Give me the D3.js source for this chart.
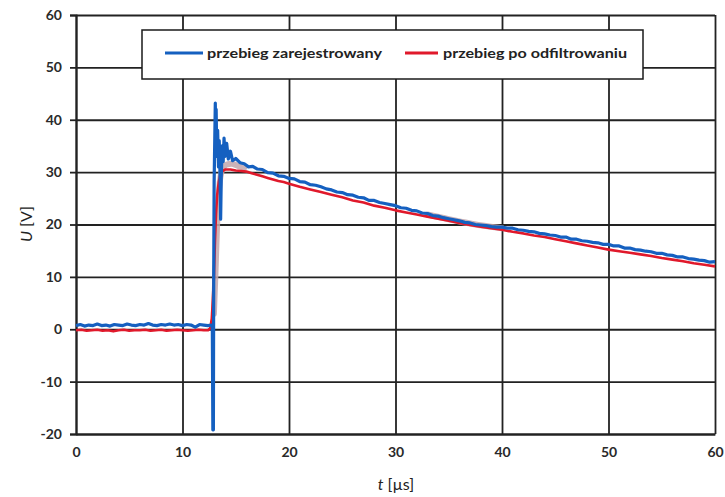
<!DOCTYPE html>
<html><head><meta charset="utf-8">
<script src="https://cdn.jsdelivr.net/npm/d3@7"></script>
<style>body{margin:0;background:#fff}svg{display:block}</style>
</head><body>
<svg id="c" width="725" height="497"></svg>
<script>
const xTicks = [0,10,20,30,40,50,60];
const yTicks = [-20,-10,0,10,20,30,40,50,60];
const legendLabels = ["przebieg zarejestrowany","przebieg po odfiltrowaniu"];
const xTitle = "[µs]", yTitle = "[V]";

const blueSeries = [
[0,0.7],[0.4,0.9],[0.8,0.6],[1.2,0.8],[1.6,0.7],[2.0,1.0],[2.4,0.7],[2.8,0.8],[3.2,0.6],[3.6,0.9],
[4.0,0.8],[4.4,0.7],[4.8,1.0],[5.2,0.8],[5.6,0.7],[6.0,0.9],[6.4,0.8],[6.8,1.1],[7.2,0.8],[7.6,0.7],
[8.0,0.9],[8.4,0.8],[8.8,1.0],[9.2,0.8],[9.6,0.9],[10.0,0.7],[10.4,0.9],[10.8,0.8],[11.2,0.4],[11.6,0.9],
[12.0,0.8],[12.4,0.7],[12.7,0.8],[12.8,0.5],[12.85,-19.2],[12.9,-19.2],[12.93,10],[12.97,28],[13.02,35],
[13.08,43.2],[13.12,36],[13.16,42],[13.22,33],[13.3,38],[13.38,31],[13.45,36],[13.52,30],[13.58,21],
[13.64,29],[13.72,35],[13.82,32],[13.9,36.5],[14.0,33],[14.15,35.5],[14.3,32.5],[14.5,34],[14.7,32.2],
[15.0,32.6],[15.4,31.8],[15.8,31.6],[16.2,31.0],[16.6,31.1],[17.0,30.6],[17.5,30.5],[18,29.9],[18.5,29.8],
[19,29.3],[19.5,29.2],[20,28.8],[20.5,28.7],[21,28.2],[21.5,28.1],[22,27.6],[22.5,27.5],[23,27.2],[23.5,26.8],
[24,26.6],[24.5,26.2],[25,26.1],[25.5,25.7],[26,25.6],[26.5,25.2],[27,25.1],[27.5,24.6],[28,24.6],[28.5,24.2],
[29,24.0],[29.5,23.8],[30,23.6],[30.5,23.2],[31,23.1],[31.5,22.7],[32,22.6],[32.5,22.2],[33,22.1],[33.5,21.7],
[34,21.6],[34.5,21.3],[35,21.1],[35.5,20.9],[36,20.7],[36.5,20.4],[37,20.3],[37.5,20.0],[38,19.9],[38.5,19.8],
[39,19.6],[39.5,19.5],[40,19.5],[40.5,19.3],[41,19.3],[41.5,19.0],[42,18.9],[42.5,18.7],[43,18.6],[43.5,18.3],
[44,18.2],[44.5,18.0],[45,17.9],[45.5,17.6],[46,17.6],[46.5,17.2],[47,17.2],[47.5,16.9],[48,16.8],[48.5,16.6],
[49,16.5],[49.5,16.2],[50,16.2],[50.5,15.9],[51,15.9],[51.5,15.5],[52,15.5],[52.5,15.2],[53,15.1],[53.5,14.9],
[54,14.8],[54.5,14.5],[55,14.5],[55.5,14.2],[56,14.1],[56.5,13.8],[57,13.8],[57.5,13.5],[58,13.4],[58.5,13.2],
[59,13.1],[59.5,12.8],[60,12.9]
];
const redSeries = [
[0,-0.2],[0.5,-0.1],[1,-0.3],[1.5,-0.2],[2,-0.1],[2.5,-0.3],[3,-0.2],[3.5,-0.4],[4,-0.2],[4.5,-0.1],
[5,-0.3],[5.5,-0.2],[6,-0.2],[6.5,-0.1],[7,-0.3],[7.5,-0.2],[8,-0.1],[8.5,-0.3],[9,-0.2],[9.5,-0.1],
[10,-0.2],[10.5,-0.3],[11,-0.2],[11.5,-0.1],[12,-0.2],[12.4,-0.2],[12.6,0.2],[12.75,2],[12.85,5.5],
[12.95,10],[13.05,17],[13.15,22],[13.25,25.5],[13.4,28],[13.55,29.5],[13.75,30.2],[14,30.5],[14.5,30.5],
[15,30.3],[15.5,30.2],[16,30.1],[16.5,29.8],[17,29.5],[17.5,29.2],[18,28.9],[18.5,28.6],[19,28.3],[19.5,28.1],
[20,27.8],[21,27.2],[22,26.7],[23,26.2],[24,25.7],[25,25.2],[26,24.6],[27,24.2],[28,23.6],[29,23.2],
[30,22.7],[31,22.3],[32,21.9],[33,21.5],[34,21.1],[35,20.7],[36,20.3],[37,19.9],[38,19.6],[39,19.3],
[40,19.0],[41,18.6],[42,18.3],[43,17.9],[44,17.6],[45,17.2],[46,16.8],[47,16.4],[48,16.0],[49,15.6],
[50,15.2],[51,14.9],[52,14.6],[53,14.3],[54,14.0],[55,13.6],[56,13.3],[57,13.0],[58,12.6],[59,12.3],[60,12.0]
];
const grayPeak = [[12.95,3],[13.1,11],[13.25,20],[13.45,27],[13.7,30.3],[14.1,31.4],[14.6,31.6],[15.2,31.2],[15.8,30.8]];
const grayTail = [[33,21.9],[35,21.0],[37,20.2],[38.5,19.7],[40,19.3]];

const svg = d3.select("#c");
const x = d3.scaleLinear().domain([0,60]).range([76,715]);
const y = d3.scaleLinear().domain([-20,60]).range([434,15]);
const gridColor = "#222";
const font = "Lato, 'Open Sans', sans-serif";
const fmt = d => String(d);

svg.append("g").attr("transform","translate(0,434)")
  .call(d3.axisBottom(x).tickValues(xTicks).tickSize(-419).tickFormat(""))
  .call(g=>g.select(".domain").remove())
  .call(g=>g.selectAll("line").attr("stroke",gridColor).attr("stroke-width",1.8));
svg.append("g").attr("transform","translate(76,0)")
  .call(d3.axisLeft(y).tickValues(yTicks).tickSize(-639).tickFormat(""))
  .call(g=>g.select(".domain").remove())
  .call(g=>g.selectAll("line").attr("stroke",gridColor).attr("stroke-width",1.8));

svg.append("g").attr("transform","translate(76,0)")
  .call(d3.axisLeft(y).tickValues(yTicks).tickFormat(fmt).tickSize(6).tickPadding(8))
  .call(g=>g.select(".domain").attr("stroke",gridColor).attr("stroke-width",2))
  .call(g=>g.selectAll("line").attr("stroke",gridColor).attr("stroke-width",1.8))
  .call(g=>g.selectAll("text").attr("font-family",font).attr("font-weight","bold").attr("font-size",14).attr("fill","#2a2a2a"));
svg.append("g").attr("transform","translate(0,434)")
  .call(d3.axisBottom(x).tickValues(xTicks).tickFormat(fmt).tickSize(0).tickPadding(13))
  .call(g=>g.select(".domain").attr("stroke",gridColor).attr("stroke-width",2))
  .call(g=>g.selectAll("text").attr("font-family",font).attr("font-weight","bold").attr("font-size",14).attr("fill","#2a2a2a"));

const line = d3.line().x(d=>x(d[0])).y(d=>y(d[1]));
[grayPeak, grayTail].forEach(s=>{
  svg.append("path").datum(s).attr("d",line.curve(d3.curveMonotoneX)).attr("fill","none")
    .attr("stroke","#c2a6ab").attr("stroke-width",6).attr("stroke-opacity",0.85).attr("stroke-linecap","round");
});
line.curve(d3.curveLinear);
svg.append("path").datum(redSeries).attr("d",line).attr("fill","none")
  .attr("stroke","#e0192b").attr("stroke-width",2.6).attr("stroke-linejoin","round");
svg.append("path").datum(blueSeries).attr("d",line).attr("fill","none")
  .attr("stroke","#1560c0").attr("stroke-width",3.2).attr("stroke-linejoin","round");

const lg = svg.append("g");
lg.append("rect").attr("x",142).attr("y",30).attr("width",501).attr("height",49)
  .attr("fill","#fff").attr("stroke","#1a1a1a").attr("stroke-width",1.5);
lg.append("line").attr("x1",165).attr("x2",203).attr("y1",53).attr("y2",53).attr("stroke","#1560c0").attr("stroke-width",3);
lg.append("line").attr("x1",405).attr("x2",438).attr("y1",53).attr("y2",53).attr("stroke","#e0192b").attr("stroke-width",3);
lg.append("text").attr("x",207).attr("y",58).text(legendLabels[0]).attr("textLength",175).attr("lengthAdjust","spacingAndGlyphs")
  .attr("font-family",font).attr("font-weight","bold").attr("font-size",14).attr("fill","#222");
lg.append("text").attr("x",443).attr("y",58).text(legendLabels[1]).attr("textLength",184).attr("lengthAdjust","spacingAndGlyphs")
  .attr("font-family",font).attr("font-weight","bold").attr("font-size",14).attr("fill","#222");

const yt = svg.append("text").attr("transform","translate(32,224) rotate(-90)").attr("text-anchor","middle")
  .attr("font-family",font).attr("font-size",16).attr("fill","#222");
yt.append("tspan").attr("font-style","italic").text("U");
yt.append("tspan").text(" "+yTitle);
const xt = svg.append("text").attr("x",396).attr("y",490).attr("text-anchor","middle")
  .attr("font-family",font).attr("font-size",16).attr("fill","#222");
xt.append("tspan").attr("font-style","italic").text("t");
xt.append("tspan").text(" "+xTitle);
</script>
</body></html>
